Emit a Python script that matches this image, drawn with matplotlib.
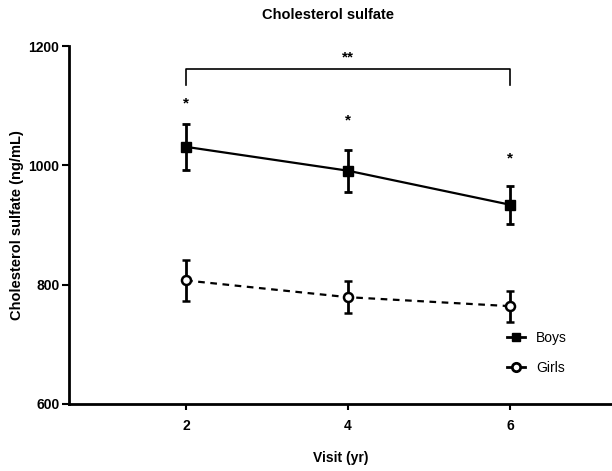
import matplotlib
matplotlib.use("Agg")
import matplotlib.pyplot as plt
from matplotlib.lines import Line2D

plt.rcParams['font.family'] = ['Liberation Sans', 'DejaVu Sans']

visits = [2, 4, 6]
boys_mean = [1031, 991, 934]
boys_err = [38, 35, 32]
girls_mean = [807, 779, 764]
girls_err = [34, 27, 26]
star_y = [1104, 1076, 1012]
bracket_y = 1161
bracket_drop = 1135
title = "Cholesterol sulfate"
xlabel = "Visit (yr)"
ylabel = "Cholesterol sulfate (ng/mL)"
yticks = [600, 800, 1000, 1200]

fig = plt.figure(figsize=(6.12, 4.71), dpi=100)
ax = fig.add_axes([0.1127, 0.1423, 0.8873, 0.76])

ax.errorbar(visits, boys_mean, yerr=boys_err, color='black', lw=1.6, marker='s',
            ms=6.5, capsize=3, capthick=2, elinewidth=2, label='Boys')
ax.errorbar(visits, girls_mean, yerr=girls_err, color='black', lw=1.6, ls=(0, (3, 2.5)),
            marker='o', ms=6.5, mfc='white', mew=1.8, capsize=3, capthick=2, elinewidth=2,
            label='Girls')

for x, y in zip(visits, star_y):
    ax.text(x, y, '*', ha='center', va='center', fontsize=11, fontweight='bold')

ax.plot([visits[0], visits[0], visits[-1], visits[-1]],
        [bracket_drop, bracket_y, bracket_y, bracket_drop], color='black', lw=1.2)
ax.text((visits[0] + visits[-1]) / 2, 1180, '**', ha='center', va='center',
        fontsize=11, fontweight='bold')

ax.set_xlim(0.555, 7.26)
ax.set_ylim(600, 1200)
ax.set_xticks(visits)
ax.set_yticks(yticks)
ax.tick_params(axis='both', direction='out', width=1.5, labelsize=10)
ax.tick_params(axis='y', length=5, pad=2)
ax.tick_params(axis='x', length=4, pad=7)
for lab in ax.get_xticklabels() + ax.get_yticklabels():
    lab.set_fontweight('bold')
for s in ['top', 'right']:
    ax.spines[s].set_visible(False)
for s in ['left', 'bottom']:
    ax.spines[s].set_linewidth(2)

ax.set_xlabel(xlabel, fontsize=10, fontweight='bold', labelpad=13)
ax.set_ylabel(ylabel, fontsize=10.5, fontweight='bold')
ax.yaxis.set_label_coords(-0.083, 0.5)
fig.text(0.536, 0.968, title, ha='center', va='center', fontsize=10.5, fontweight='bold')

handles = [Line2D([], [], color='black', marker='s', ms=6, lw=2),
           Line2D([], [], color='black', marker='o', ms=6, mfc='white', mew=2, lw=2)]
ax.legend(handles, ['Boys', 'Girls'], loc='center left', bbox_to_anchor=(0.783, 0.1425),
          frameon=False, fontsize=10, handlelength=1.3, handletextpad=0.8, labelspacing=1.15)

fig.savefig('out.png', dpi=100)
